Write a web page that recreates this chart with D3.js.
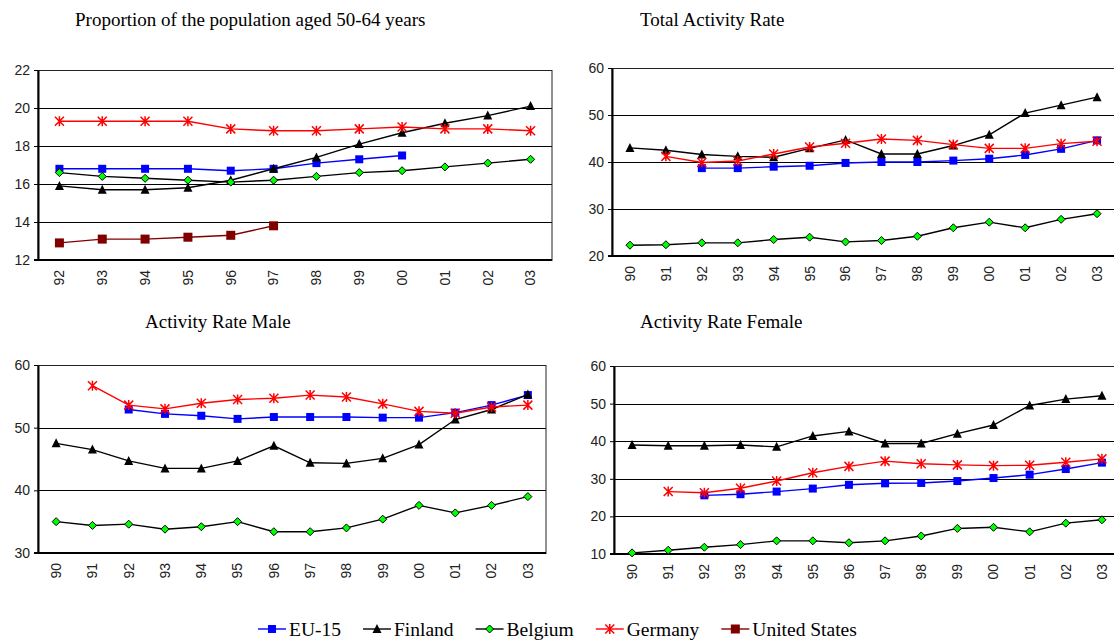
<!DOCTYPE html>
<html>
<head>
<meta charset="utf-8">
<script src="https://cdn.jsdelivr.net/npm/d3@7"></script>
<style>
  html, body { margin: 0; padding: 0; background: #fff; }
  svg { display: block; }
  .title { font-family: "Liberation Serif", "Times New Roman", serif; font-size: 19px; fill: #000; }
  .tick text { font-family: "Liberation Sans", Arial, sans-serif; font-size: 14px; fill: #222; }
  .legend text { font-family: "Liberation Serif", "Times New Roman", serif; font-size: 19.5px; fill: #000; }
</style>
</head>
<body>
<svg id="chart" width="1114" height="642"></svg>
<script>
// Year labels
const years92 = ["92","93","94","95","96","97","98","99","00","01","02","03"];
const years90 = ["90","91","92","93","94","95","96","97","98","99","00","01","02","03"];

// Proportion of the population aged 50-64 years (%), 1992-2003
const popEU = [16.8,16.8,16.8,16.8,16.7,16.8,17.1,17.3,17.5,null,null,null];
const popFI = [15.9,15.7,15.7,15.8,16.2,16.8,17.4,18.1,18.7,19.2,19.6,20.1];
const popBE = [16.6,16.4,16.3,16.2,16.1,16.2,16.4,16.6,16.7,16.9,17.1,17.3];
const popDE = [19.3,19.3,19.3,19.3,18.9,18.8,18.8,18.9,19.0,18.9,18.9,18.8];
const popUS = [12.9,13.1,13.1,13.2,13.3,13.8,null,null,null,null,null,null];

// Total activity rate (%), 1990-2003
const totEU = [null,null,38.7,38.7,39.0,39.2,39.8,40.0,40.0,40.3,40.7,41.5,42.8,44.6];
const totFI = [43.0,42.5,41.6,41.2,41.0,42.9,44.7,41.7,41.7,43.5,45.8,50.4,52.1,53.8];
const totBE = [22.3,22.4,22.8,22.8,23.5,24.0,23.0,23.3,24.2,26.0,27.2,26.0,27.8,29.0];
const totDE = [null,41.2,39.9,40.2,41.7,43.2,44.0,44.9,44.6,43.7,42.9,42.9,43.9,44.4];

// Activity rate, male (%), 1990-2003
const maleEU = [null,null,52.9,52.2,51.9,51.4,51.7,51.7,51.7,51.6,51.6,52.4,53.6,55.2];
const maleFI = [47.5,46.5,44.7,43.5,43.5,44.7,47.1,44.4,44.3,45.1,47.3,51.3,52.9,55.3];
const maleBE = [35.0,34.4,34.6,33.8,34.2,35.0,33.4,33.4,34.0,35.4,37.6,36.4,37.6,39.0];
const maleDE = [null,56.7,53.6,53.0,53.9,54.5,54.7,55.2,54.9,53.8,52.6,52.3,53.3,53.6];

// Activity rate, female (%), 1990-2003
const femEU = [null,null,25.6,25.9,26.6,27.4,28.4,28.8,28.9,29.4,30.2,31.1,32.6,34.3];
const femFI = [39.0,38.8,38.8,39.0,38.5,41.4,42.6,39.4,39.4,42.0,44.3,49.5,51.2,52.1];
const femBE = [10.3,11.0,11.8,12.5,13.5,13.5,13.0,13.5,14.8,16.8,17.1,15.9,18.2,19.1];
const femDE = [null,26.6,26.3,27.5,29.4,31.6,33.3,34.7,34.0,33.7,33.5,33.6,34.4,35.3];

// Axis ticks per panel
const popTicks = [12,14,16,18,20,22];
const totTicks = [20,30,40,50,60];
const maleTicks = [30,40,50,60];
const femTicks = [10,20,30,40,50,60];

// Series appearance
const seriesNames = ["EU-15","Finland","Belgium","Germany","United States"];
const styles = {
  "EU-15":         { line: "#0000ff", marker: "square",   fill: "#0000ff", stroke: "none",    size: 8 },
  "Finland":       { line: "#000000", marker: "triangle", fill: "#000000", stroke: "none",    size: 9 },
  "Belgium":       { line: "#000000", marker: "diamond",  fill: "#00ff00", stroke: "#000000", size: 8 },
  "Germany":       { line: "#ff0000", marker: "star",     fill: "none",    stroke: "#ff0000", size: 9 },
  "United States": { line: "#800000", marker: "square",   fill: "#800000", stroke: "none",    size: 9 }
};

const svg = d3.select("#chart");

function drawMarker(g, name, x, y) {
  const s = styles[name];
  const h = s.size / 2;
  if (s.marker === "square") {
    g.append("rect").attr("x", x - h).attr("y", y - h).attr("width", s.size).attr("height", s.size)
      .attr("fill", s.fill);
  } else if (s.marker === "triangle") {
    g.append("path").attr("d", `M${x},${y - h - 0.5}L${x + h},${y + h - 0.5}L${x - h},${y + h - 0.5}Z`)
      .attr("fill", s.fill);
  } else if (s.marker === "diamond") {
    g.append("path").attr("d", `M${x},${y - h}L${x + h},${y}L${x},${y + h}L${x - h},${y}Z`)
      .attr("fill", s.fill).attr("stroke", s.stroke).attr("stroke-width", 1);
  } else if (s.marker === "star") {
    g.append("path").attr("d",
      `M${x - h},${y - h}L${x + h},${y + h}M${x - h},${y + h}L${x + h},${y - h}M${x},${y - h - 0.5}L${x},${y + h + 0.5}`)
      .attr("stroke", s.stroke).attr("stroke-width", 1.5).attr("fill", "none");
  }
}

function drawPanel(p) {
  const g = svg.append("g");
  const x = d3.scaleBand().domain(p.cats).range([p.left, p.left + p.width]).padding(0);
  const y = d3.scaleLinear().domain([p.ticks[0], p.ticks[p.ticks.length - 1]])
    .range([p.top + p.height, p.top]);
  const cx = d => x(d) + x.bandwidth() / 2;

  // title
  g.append("text").attr("class", "title").attr("x", p.titleX).attr("y", p.titleY).text(p.title);

  // gridlines
  g.append("g").selectAll("line").data(p.ticks.slice(1, -1)).join("line")
    .attr("x1", p.left).attr("x2", p.left + p.width)
    .attr("y1", d => Math.round(y(d)) + 0.5).attr("y2", d => Math.round(y(d)) + 0.5)
    .attr("stroke", "#000").attr("stroke-width", 1);

  // plot border
  g.append("rect").attr("x", p.left).attr("y", Math.round(p.top) + 0.5)
    .attr("width", p.width).attr("height", p.height)
    .attr("fill", "none").attr("stroke", "#222").attr("stroke-width", 1);

  // y axis
  const ya = g.append("g").attr("transform", `translate(${p.left},0)`)
    .call(d3.axisLeft(y).tickValues(p.ticks).tickSizeInner(4).tickSizeOuter(0).tickPadding(4).tickFormat(d3.format("d")));
  ya.select(".domain").attr("stroke", "#000").attr("stroke-width", 2);
  ya.selectAll(".tick line").attr("stroke", "#000").attr("stroke-width", 1);

  // x axis baseline
  g.append("line").attr("x1", p.left - 4).attr("x2", p.left + p.width)
    .attr("y1", p.top + p.height).attr("y2", p.top + p.height)
    .attr("stroke", "#000").attr("stroke-width", 2);

  // x labels (rotated)
  g.append("g").attr("class", "tick").selectAll("text").data(p.cats).join("text")
    .attr("transform", d => `translate(${cx(d)},${p.top + p.height + 10}) rotate(-90)`)
    .attr("text-anchor", "end").attr("dy", "0.35em").text(d => d);

  // series
  const line = d3.line().defined(d => d.v != null).x(d => cx(d.c)).y(d => y(d.v));
  p.series.forEach(([name, vals]) => {
    const pts = p.cats.map((c, i) => ({ c, v: vals[i] }));
    const sg = g.append("g");
    sg.append("path").datum(pts).attr("d", line).attr("fill", "none")
      .attr("stroke", styles[name].line).attr("stroke-width", 1.4);
    pts.filter(d => d.v != null).forEach(d => drawMarker(sg, name, cx(d.c), y(d.v)));
  });
}

drawPanel({
  title: "Proportion of the population aged 50-64 years", titleX: 75, titleY: 26,
  cats: years92, ticks: popTicks, left: 38, top: 70, width: 514, height: 190,
  series: [["EU-15", popEU], ["Finland", popFI], ["Belgium", popBE], ["Germany", popDE], ["United States", popUS]]
});
drawPanel({
  title: "Total Activity Rate", titleX: 640, titleY: 26,
  cats: years90, ticks: totTicks, left: 612, top: 68, width: 503, height: 188,
  series: [["EU-15", totEU], ["Finland", totFI], ["Belgium", totBE], ["Germany", totDE]]
});
drawPanel({
  title: "Activity Rate Male", titleX: 145, titleY: 328,
  cats: years90, ticks: maleTicks, left: 38, top: 365, width: 508, height: 188,
  series: [["EU-15", maleEU], ["Finland", maleFI], ["Belgium", maleBE], ["Germany", maleDE]]
});
drawPanel({
  title: "Activity Rate Female", titleX: 640, titleY: 328,
  cats: years90, ticks: femTicks, left: 614, top: 366, width: 506, height: 188,
  series: [["EU-15", femEU], ["Finland", femFI], ["Belgium", femBE], ["Germany", femDE]]
});

// legend
const lg = svg.append("g").attr("class", "legend");
let lx = 258;
const ly = 629;
seriesNames.forEach(name => {
  const s = styles[name];
  lg.append("line").attr("x1", lx).attr("x2", lx + 28).attr("y1", ly).attr("y2", ly)
    .attr("stroke", s.line).attr("stroke-width", 1.4);
  drawMarker(lg, name, lx + 14, ly);
  const t = lg.append("text").attr("x", lx + 31).attr("y", ly).attr("dy", "0.35em").text(name);
  lx += 31 + t.node().getComputedTextLength() + 22;
});
</script>
</body>
</html>
